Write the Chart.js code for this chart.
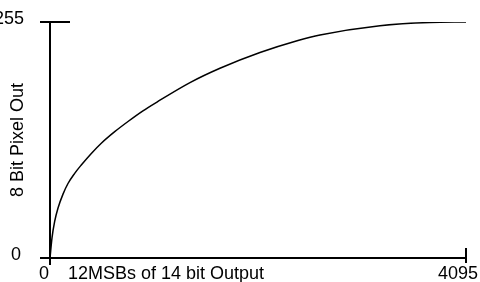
<!DOCTYPE html>
<html lang="en">
<head>
    <meta charset="UTF-8">
    <title>8 Bit Pixel Out</title>
    <style>
        html, body { margin: 0; padding: 0; background: #fff; }
        .chart-container { width: 480px; height: 282px; }
    </style>
</head>
<body>
    <div class="chart-container">
        <canvas id="curva"></canvas>
    </div>

    <script src="https://cdn.jsdelivr.net/npm/chart.js"></script>
    <script>
        // valores
        const entrada = [0, 20, 46, 79, 128, 177, 243, 308, 407, 505, 637, 768, 915, 1053, 1378, 1673, 2067, 2441, 2658, 3248, 3740, 4095];
        const saida   = [0, 22, 39.5, 54, 69, 80.5, 91.5, 100.5, 113, 124, 136.5, 147.5, 159, 168.5, 189.5, 205, 222, 235, 241, 251, 254.5, 255];
        const xTicks = [0, 4095];
        const yTicks = [0, 255];
        const xTitulo = '12MSBs of 14 bit Output';
        const yTitulo = '8 Bit Pixel Out';

        const fonte = '18px "Liberation Sans", Arial, sans-serif';

        // desenha eixos, marcas e textos usando as escalas do grafico
        const eixosPlugin = {
            id: 'eixos',
            afterDraw(chart) {
                const ctx = chart.ctx;
                const xs = chart.scales.x, ys = chart.scales.y;
                const x0 = xs.getPixelForValue(xTicks[0]);
                const x1 = xs.getPixelForValue(xTicks[1]);
                const y0 = ys.getPixelForValue(yTicks[0]);
                const y1 = ys.getPixelForValue(yTicks[1]);

                ctx.save();
                ctx.strokeStyle = '#000';
                ctx.lineWidth = 2;
                ctx.beginPath();
                // eixo y
                ctx.moveTo(x0, y1); ctx.lineTo(x0, y0 + 7);
                // eixo x
                ctx.moveTo(x0 - 10, y0); ctx.lineTo(x1, y0);
                // marca 255
                ctx.moveTo(x0 - 10, y1); ctx.lineTo(x0 + 20, y1);
                // marca 4095
                ctx.moveTo(x1, y0 - 10); ctx.lineTo(x1, y0 + 5);
                ctx.stroke();

                ctx.fillStyle = '#000';
                ctx.font = fonte;
                ctx.textBaseline = 'middle';
                ctx.textAlign = 'right';
                ctx.fillText(String(yTicks[1]), x0 - 26, y1 - 3);
                ctx.fillText(String(yTicks[0]), x0 - 29, y0 - 3);

                ctx.textBaseline = 'alphabetic';
                ctx.textAlign = 'center';
                ctx.fillText(String(xTicks[0]), x0 - 6, y0 + 21);
                ctx.fillText(String(xTicks[1]), x1 - 8, y0 + 21);
                ctx.textAlign = 'left';
                ctx.fillText(xTitulo, x0 + 18, y0 + 21);

                // titulo do eixo y
                ctx.translate(x0 - 27, (y0 + y1) / 2);
                ctx.rotate(-Math.PI / 2);
                ctx.textAlign = 'center';
                ctx.fillText(yTitulo, 0, 0);
                ctx.restore();
            }
        };

        new Chart(document.getElementById('curva'), {
            type: 'scatter',
            data: {
                datasets: [{
                    data: entrada.map((v, i) => ({ x: v, y: saida[i] })),
                    showLine: true,
                    borderColor: '#000',
                    borderWidth: 1.5,
                    pointRadius: 0,
                    cubicInterpolationMode: 'monotone',
                    fill: false
                }]
            },
            options: {
                responsive: true,
                maintainAspectRatio: false,
                animation: false,
                layout: { padding: { left: 50, right: 14, top: 22, bottom: 24 } },
                plugins: {
                    legend: { display: false },
                    tooltip: { enabled: false }
                },
                scales: {
                    x: {
                        type: 'linear', min: 0, max: 4095,
                        display: false
                    },
                    y: {
                        type: 'linear', min: 0, max: 255,
                        display: false
                    }
                }
            },
            plugins: [eixosPlugin]
        });
    </script>
</body>
</html>
